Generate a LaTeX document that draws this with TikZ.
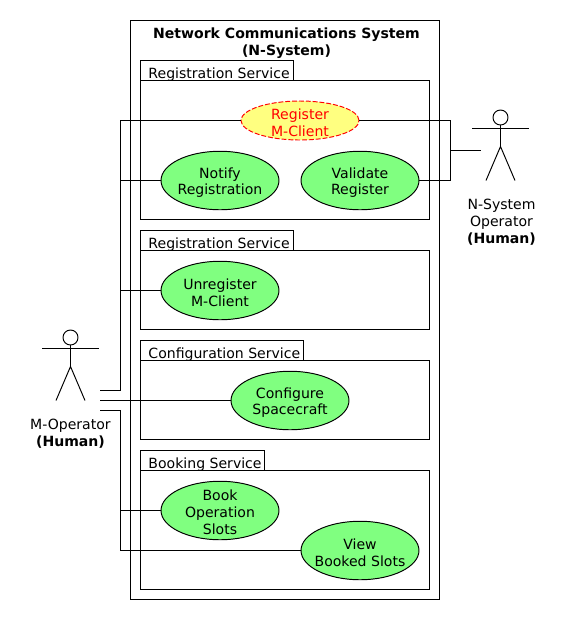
\documentclass[tikz,border=0pt]{standalone}
\usepackage{fontspec}
\setmainfont{DejaVu Sans}
\usetikzlibrary{shapes.geometric}
\definecolor{usecasegreen}{RGB}{128,255,128}
\definecolor{usecaseyellow}{RGB}{255,255,128}
\newcommand{\ucgap}{\rule{0pt}{8.5pt}}
\tikzset{
  usecase/.style={draw, ellipse, fill=usecasegreen, minimum width=2.36cm, minimum height=1.17cm, inner sep=-12pt, align=center, font=\fontsize{8}{9.65}\selectfont},
  usecasenew/.style={usecase, fill=usecaseyellow, draw=red, dash pattern=on 2.8pt off 1.1pt, text=red, minimum height=0.78cm},
  tablabel/.style={anchor=west, inner sep=0pt, font=\fontsize{8}{9.65}\selectfont},
  actorlabel/.style={align=center, inner sep=0pt, font=\fontsize{8}{9.65}\selectfont},
}
\begin{document}
\begin{tikzpicture}[x=0.02cm, y=-0.02cm, line width=0.55pt]
\useasboundingbox (-0.5,-0.5) rectangle (569.5,619.5);
% System boundary
\draw (130,20) rectangle (439,599);
\node[actorlabel, font=\fontsize{8}{9.65}\selectfont\bfseries] (systemtitle) at (286,42.5) {Network Communications System\\(N-System)};

% Registration Service - upper
\draw (140,60) rectangle (293,80);
\draw (140,80) rectangle (429,219);
\node[tablabel] (regtabupper) at (147.5,74) {Registration Service};

% Registration Service - lower
\draw (140,230) rectangle (293,250);
\draw (140,250) rectangle (429,329);
\node[tablabel] (regtablower) at (147.5,244) {Registration Service};

% Configuration Service
\draw (140,340) rectangle (303,360);
\draw (140,360) rectangle (429,439);
\node[tablabel] (configtab) at (147.5,354) {Configuration Service};

% Booking Service
\draw (140,450) rectangle (264,470);
\draw (140,470) rectangle (429,589);
\node[tablabel] (booktab) at (147.5,464) {Booking Service};

% Use cases
\node[usecasenew] (register) at (299.5,120) {\ucgap Register\\M-Client};
\node[usecase] (notify) at (219.5,180) {\ucgap Notify\\Registration};
\node[usecase] (validate) at (359.5,180) {\ucgap Validate\\Register};
\node[usecase] (unregister) at (219.5,290) {\ucgap Unregister\\M-Client};
\node[usecase] (configure) at (289.5,400) {\ucgap Configure\\Spacecraft};
\node[usecase] (book) at (219.5,510) {\ucgap Book\\Operation\\Slots};
\node[usecase] (view) at (359.5,550) {\ucgap View\\Booked Slots};

% M-Operator
\begin{scope}[shift={(70,337)}]
\draw (0,0) circle (7.5);
\draw (0,7.5) -- (0,29);
\draw (-28.5,11) -- (28.5,11);
\draw (-14.5,63) -- (0,29) -- (14.5,63);
\end{scope}
\node[actorlabel] (moperator) at (70,433.5) {M-Operator\\\textbf{(Human)}};

% N-System Operator
\begin{scope}[shift={(500,117)}]
\draw (0,0) circle (7.5);
\draw (0,7.5) -- (0,29);
\draw (-28.5,11) -- (28.5,11);
\draw (-14.5,63) -- (0,29) -- (14.5,63);
\end{scope}
\node[actorlabel] (noperator) at (501,222) {N-System\\Operator\\\textbf{(Human)}};

% M-Operator wires
\coordinate (mtop) at (99.5,390);
\coordinate (mmid) at (99.5,400);
\coordinate (mlow) at (99.5,410);
\coordinate (mbusup) at (120,300);
\coordinate (mbusdown) at (120,480);
\draw (mtop) -| (mbusup) |- (register.west);
\draw (notify.west) -- (notify.west -| mbusup);
\draw (unregister.west) -- (unregister.west -| mbusup);
\draw (mmid) -- (configure.west);
\draw (mlow) -| (mbusdown) |- (view.west);
\draw (book.west) -- (book.west -| mbusdown);

% N-Operator wires
\coordinate (nbus) at (450,150);
\coordinate (nend) at (480.5,150);
\draw (register.east) -| (nbus) |- (validate.east);
\draw (nbus) -- (nend);
\end{tikzpicture}
\end{document}
